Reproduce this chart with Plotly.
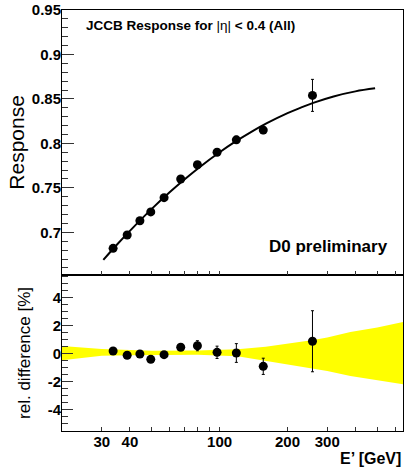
import plotly.graph_objects as go

# Data
energy = [33.7, 38.9, 44.3, 49.5, 56.7, 67.2, 79.7, 97.4, 118.6, 156.1, 258.0]
response = [0.682, 0.697, 0.713, 0.723, 0.739, 0.760, 0.776, 0.790, 0.804, 0.815, 0.854]
response_err = [0.002, 0.002, 0.002, 0.002, 0.002, 0.002, 0.002, 0.003, 0.004, 0.004, 0.018]

fit_energy = [30.5, 35, 40, 50, 60, 70, 82, 100, 115, 140, 162, 200, 228, 260, 320, 400, 489]
fit_response = [0.669, 0.686, 0.7017, 0.7264, 0.745, 0.7597, 0.7738, 0.790, 0.8005, 0.8138,
                0.8227, 0.834, 0.840, 0.8456, 0.8528, 0.8585, 0.8619]

rel_diff = [0.16, -0.14, -0.05, -0.43, -0.10, 0.43, 0.54, 0.07, 0.02, -0.93, 0.86]
rel_diff_err = [0.08, 0.08, 0.08, 0.1, 0.08, 0.22, 0.36, 0.44, 0.67, 0.58, 2.18]

band_energy = [20, 30, 40, 50, 80, 120, 160, 200, 260, 300, 380, 500, 650]
band_upper = [0.52, 0.30, 0.24, 0.19, 0.20, 0.29, 0.47, 0.68, 0.95, 1.13, 1.52, 1.85, 2.24]
band_lower = [-0.50, -0.17, -0.14, -0.12, -0.10, -0.22, -0.55, -0.78, -1.07, -1.27, -1.62, -1.90, -2.21]

x_tick_vals = [30, 40, 100, 200, 300]
x_tick_text = ["30", "40", "100", "200", "300"]
x_minor_vals = [50, 60, 70, 80, 90, 400, 500, 600]
low_tick_vals = [-4, -2, 0, 2, 4]
low_tick_text = ["-4", "-2", "0", "2", "4"]

FONT = "Liberation Sans, Arial, sans-serif"
INK = "#000000"

fig = go.Figure()

# Bottom panel: band
fig.add_trace(go.Scatter(x=band_energy, y=band_upper, mode="lines", line=dict(width=0),
                         xaxis="x", yaxis="y", showlegend=False, hoverinfo="skip"))
fig.add_trace(go.Scatter(x=band_energy, y=band_lower, mode="lines", line=dict(width=0),
                         fill="tonexty", fillcolor="#ffff00",
                         xaxis="x", yaxis="y", showlegend=False, hoverinfo="skip"))
fig.add_trace(go.Scatter(x=energy, y=rel_diff, mode="markers",
                         marker=dict(color=INK, size=9),
                         error_y=dict(type="data", array=rel_diff_err, color=INK, thickness=1, width=1.5),
                         xaxis="x", yaxis="y", showlegend=False))

# Top panel: fit and points
fig.add_trace(go.Scatter(x=fit_energy, y=fit_response, mode="lines",
                         line=dict(color=INK, width=2, shape="spline"),
                         xaxis="x2", yaxis="y2", showlegend=False))
fig.add_trace(go.Scatter(x=energy, y=response, mode="markers",
                         marker=dict(color=INK, size=9),
                         error_y=dict(type="data", array=response_err, color=INK, thickness=1, width=1.5),
                         xaxis="x2", yaxis="y2", showlegend=False))

tickfont = dict(family=FONT, size=15, color=INK, weight="bold")
x_common = dict(type="log", range=[1.301, 2.813], showgrid=False, zeroline=False,
                showline=True, mirror=True, linecolor=INK, linewidth=1,
                ticks="inside", ticklen=4, tickcolor="#333", tickwidth=1,
                tickmode="array", tickvals=x_tick_vals, ticktext=x_tick_text,
                ticklabelstandoff=-3,
                minor=dict(tickmode="array", tickvals=x_minor_vals, ticks="inside",
                           ticklen=4, tickcolor="#333", showgrid=False),
                tickfont=tickfont)

split = 0.3705
fig.update_layout(
    width=404, height=470,
    margin=dict(l=62, r=1, t=10, b=39),
    paper_bgcolor="white", plot_bgcolor="white",
    showlegend=False,
    xaxis=dict(**x_common, anchor="y", domain=[0, 1]),
    xaxis2=dict(**x_common, anchor="y2", domain=[0, 1], matches="x", showticklabels=False),
    yaxis=dict(domain=[0, split], range=[-5.55, 5.59], showgrid=False, zeroline=False,
               showline=True, mirror=True, linecolor=INK, linewidth=1,
               ticks="inside", ticklen=11, tickcolor="#333", ticklabelstandoff=-3,
               tickmode="array", tickvals=low_tick_vals, ticktext=low_tick_text,
               minor=dict(dtick=0.5, tick0=0, ticks="inside", ticklen=6, tickcolor="#333", showgrid=False),
               tickfont=tickfont, anchor="x"),
    yaxis2=dict(domain=[split, 1], range=[0.652, 0.95], showgrid=False, zeroline=False,
                showline=True, mirror=True, linecolor=INK, linewidth=1,
                ticks="inside", ticklen=12, tickcolor="#333", ticklabelstandoff=-3,
                tick0=0.7, dtick=0.05,
                minor=dict(dtick=0.01, tick0=0.7, ticks="inside", ticklen=6, tickcolor="#333", showgrid=False),
                tickfont=tickfont, anchor="x2"),
    annotations=[
        dict(text="JCCB Response for <span style='font-weight:normal'>|η|</span> &lt; 0.4 (All)",
             xref="paper", yref="paper", x=0.0645, y=0.964, xanchor="left", yanchor="middle",
             showarrow=False, font=dict(family=FONT, size=13.5, color=INK, weight="bold")),
        dict(text="D0 preliminary", xref="paper", yref="paper", x=0.962, y=0.438,
             xanchor="right", yanchor="middle", showarrow=False,
             font=dict(family=FONT, size=17, color=INK, weight="bold")),
        dict(text="Response", xref="paper", yref="paper", x=-0.134, y=0.6856,
             xanchor="center", yanchor="middle", textangle=-90, showarrow=False,
             font=dict(family=FONT, size=21, color=INK)),
        dict(text="rel. difference [%]", xref="paper", yref="paper", x=-0.112, y=0.185,
             xanchor="center", yanchor="middle", textangle=-90, showarrow=False,
             font=dict(family=FONT, size=17, color=INK)),
        dict(text="E’ [GeV]", xref="paper", yref="paper", x=1.0, y=-0.066,
             xanchor="right", yanchor="middle", showarrow=False,
             font=dict(family=FONT, size=16, color=INK, weight="bold")),
    ],
)

fig.write_html("out.html",
               config={"displayModeBar": False},
               post_script="document.body.style.margin='0';document.body.style.overflow='hidden';")
